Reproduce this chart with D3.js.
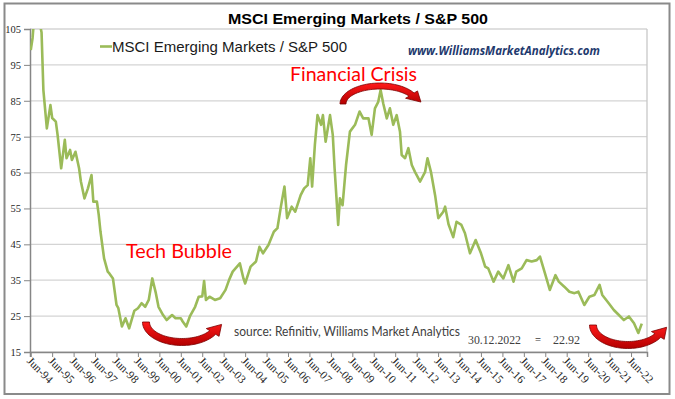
<!DOCTYPE html>
<html>
<head>
<meta charset="utf-8">
<script src="https://cdn.jsdelivr.net/npm/d3@7"></script>
<style>
  html, body { margin: 0; padding: 0; background: #fff; }
  svg { display: block; }
</style>
</head>
<body>
<svg id="chart" width="675" height="399"></svg>
<script>
// series (month-ish resolution, extra points at spikes)
const seriesName = 'MSCI Emerging Markets / S&P 500';
const dates = [
  '1994-07-01','1994-08-01','1994-09-01','1994-10-01','1994-11-15','1995-01-01','1995-02-01','1995-04-01',
  '1995-06-01','1995-07-01','1995-09-01','1995-10-01','1995-12-01','1996-02-01','1996-03-01','1996-05-01',
  '1996-06-01','1996-08-01','1996-10-01','1996-11-01','1997-01-01','1997-03-01','1997-05-01','1997-06-01',
  '1997-08-01','1997-09-01','1997-10-01','1997-12-01','1998-02-01','1998-03-01','1998-05-01','1998-07-01',
  '1998-08-01','1998-10-01','1998-12-01','1999-02-01','1999-05-01','1999-07-01','1999-09-01','1999-11-01',
  '2000-01-01','2000-03-01','2000-05-01','2000-06-15','2000-09-01','2000-11-01','2001-02-01','2001-04-01',
  '2001-07-01','2001-08-01','2001-10-01','2001-12-01','2002-03-01','2002-05-01','2002-07-01','2002-08-01',
  '2002-09-01','2002-11-01','2003-02-01','2003-05-01','2003-08-01','2003-10-01','2003-12-01','2004-04-01',
  '2004-06-01','2004-07-01','2004-10-01','2005-01-01','2005-03-01','2005-05-01','2005-08-01','2005-11-01',
  '2006-01-01','2006-03-01','2006-05-01','2006-06-15','2006-09-01','2006-11-01','2007-02-01','2007-04-01',
  '2007-06-01','2007-07-15','2007-08-15','2007-10-01','2007-11-15','2008-01-15','2008-02-15','2008-04-01',
  '2008-06-15','2008-08-01','2008-09-01','2008-11-01','2008-12-01','2009-01-15','2009-03-15','2009-05-20',
  '2009-08-15','2009-11-01','2010-01-01','2010-04-01','2010-05-25','2010-07-20','2010-09-15','2010-10-25',
  '2010-12-08','2011-02-07','2011-04-01','2011-05-28','2011-07-25','2011-09-20','2011-10-19','2011-12-16',
  '2012-02-10','2012-04-08','2012-06-01','2012-08-28','2012-11-21','2013-01-01','2013-02-28','2013-05-10',
  '2013-07-04','2013-09-27','2013-10-28','2013-12-25','2014-03-15','2014-05-10','2014-08-01','2014-10-01',
  '2014-12-25','2015-04-01','2015-07-01','2015-09-10','2015-11-01','2016-02-01','2016-04-20','2016-07-15',
  '2016-10-10','2017-01-05','2017-02-20','2017-05-25','2017-08-15','2017-11-10','2018-02-05','2018-04-01',
  '2018-06-25','2018-09-15','2018-12-20','2019-02-15','2019-05-20','2019-08-15','2019-11-10','2020-01-15',
  '2020-04-25','2020-07-20','2020-10-15','2021-01-10','2021-02-25','2021-06-15','2021-09-10','2021-12-05',
  '2022-02-28','2022-05-25','2022-08-20','2022-11-01','2022-12-30'
];
const ratio = [
  99.1,102.5,109,113,108,104,88,77.3,
  83.8,80.2,79.2,75.5,66.2,74.1,69.0,71.3,
  68.5,70.8,66.2,62.5,57.8,60.6,64.3,56.9,
  56.9,53.2,48.5,41.1,37.4,36.9,35.5,28.1,
  27.2,22.1,24.4,21.6,26.5,27.2,28.6,27.6,
  29.5,35.5,31.4,27.6,25.3,23.9,25.3,24.4,
  24.4,23.5,22.1,24.9,27.6,30.4,30.5,34.8,
  29.5,30.4,29.5,30.0,32.3,35.1,37.4,39.7,
  35.5,34.1,38.8,40.2,44.3,42.5,44.8,48.5,
  49.5,55.5,61.1,52.3,55.5,54.1,58.7,60.6,
  61.5,69.0,61.1,72.7,81.0,78.3,81.0,73.6,
  81.0,75.5,66.2,50.4,57.8,55.9,67.1,76.4,
  78.3,82.0,80.1,80.1,75.5,82.9,84.7,88.0,
  84.3,80.1,82.9,78.3,81.0,76.4,69.9,69.0,
  71.8,67.1,65.2,62.5,65.2,69.0,65.2,58.7,
  52.3,54.1,55.5,50.6,47.0,51.3,50.4,48.1,
  42.5,46.2,42.5,38.8,38.3,34.6,37.4,35.5,
  39.2,34.6,37.4,38.3,40.6,40.2,40.6,41.6,
  36.9,32.3,36.4,34.6,33.2,31.8,31.4,31.8,
  28.1,30.4,30.9,33.7,30.9,28.6,26.7,25.3,
  23.9,24.9,23.0,20.3,22.92
];
const yTicks = [15, 25, 35, 45, 55, 65, 75, 85, 95, 105];
const tickLabels = [
  'Jun-94','Jun-95','Jun-96','Jun-97','Jun-98','Jun-99','Jun-00','Jun-01','Jun-02','Jun-03',
  'Jun-04','Jun-05','Jun-06','Jun-07','Jun-08','Jun-09','Jun-10','Jun-11','Jun-12','Jun-13',
  'Jun-14','Jun-15','Jun-16','Jun-17','Jun-18','Jun-19','Jun-20','Jun-21','Jun-22'
];
const lastDate = '30.12.2022';
const lastValue = '22.92';

const W = 675, H = 399;
const plot = { left: 30, right: 647, top: 29, bottom: 352 };
const green = '#9bbb59';

const parseDay = d3.timeParse('%Y-%m-%d');
const parseTick = d3.timeParse('%b-%y');
const data = dates.map((d, i) => ({ date: parseDay(d), value: ratio[i] }));
// Excel puts the monthly tick at month end
const tickDates = tickLabels.map(s => d3.timeDay.offset(d3.timeMonth.offset(parseTick(s), 1), -1));

const x = d3.scaleTime()
  .domain([parseDay('1994-06-18'), parseDay('2023-03-29')])
  .range([plot.left, plot.right]);
const y = d3.scaleLinear().domain([15, 105]).range([plot.bottom, plot.top]);

const svg = d3.select('#chart');
svg.append('rect').attr('width', W).attr('height', H).attr('fill', '#fff');

// outer frame
svg.append('rect')
  .attr('x', 4.5).attr('y', 3.5).attr('width', 665).attr('height', 390.5)
  .attr('fill', 'none').attr('stroke', '#8a8a8a').attr('stroke-width', 2);

// gridlines
svg.append('g')
  .selectAll('line')
  .data(yTicks)
  .join('line')
  .attr('x1', plot.left).attr('x2', plot.right)
  .attr('y1', d => y(d)).attr('y2', d => y(d))
  .attr('stroke', '#d4d4d4').attr('stroke-width', 1.3);

svg.append('line')
  .attr('x1', plot.right).attr('x2', plot.right)
  .attr('y1', plot.top).attr('y2', plot.bottom)
  .attr('stroke', '#c8c8c8').attr('stroke-width', 1.3);

// y axis
const yAxis = svg.append('g')
  .attr('transform', `translate(${plot.left},0)`)
  .call(d3.axisLeft(y).tickValues(yTicks).tickSize(6).tickPadding(3).tickFormat(d3.format('d')));
yAxis.select('.domain').attr('stroke', '#868686').attr('stroke-width', 1.5);
yAxis.selectAll('.tick line').attr('stroke', '#868686');
yAxis.selectAll('text')
  .attr('font-family', '"Liberation Serif", "DejaVu Serif", serif')
  .attr('font-size', 10.5).attr('fill', '#262626');

// x axis
const xAxis = svg.append('g')
  .attr('transform', `translate(0,${plot.bottom})`)
  .call(d3.axisBottom(x).tickValues(tickDates).tickSize(5).tickFormat((d, i) => tickLabels[i]));
xAxis.select('.domain').attr('stroke', '#868686').attr('stroke-width', 1.5);
xAxis.selectAll('.tick line').attr('stroke', '#868686');
xAxis.selectAll('text')
  .attr('font-family', '"Liberation Serif", "DejaVu Serif", serif')
  .attr('font-size', 11.5).attr('fill', '#262626')
  .attr('text-anchor', 'start')
  .attr('y', 0).attr('dy', '0.35em')
  .attr('transform', 'translate(-2,7) rotate(45)');

// line, clipped to the plot area
svg.append('clipPath').attr('id', 'clip')
  .append('rect')
  .attr('x', plot.left).attr('y', plot.top)
  .attr('width', plot.right - plot.left).attr('height', plot.bottom - plot.top);

const line = d3.line().x(d => x(d.date)).y(d => y(d.value));
svg.append('path')
  .datum(data)
  .attr('clip-path', 'url(#clip)')
  .attr('d', line)
  .attr('fill', 'none')
  .attr('stroke', green)
  .attr('stroke-width', 2.6)
  .attr('stroke-linejoin', 'round');

// title and legend
svg.append('text')
  .attr('x', 228).attr('y', 24)
  .attr('font-family', '"Liberation Sans", Arial, sans-serif')
  .attr('font-size', 15.5).attr('font-weight', 'bold')
  .attr('textLength', 260).attr('lengthAdjust', 'spacingAndGlyphs')
  .text(seriesName);

svg.append('line')
  .attr('x1', 100).attr('x2', 112).attr('y1', 46.5).attr('y2', 46.5)
  .attr('stroke', green).attr('stroke-width', 2.6);
svg.append('text')
  .attr('x', 112).attr('y', 52)
  .attr('font-family', '"Liberation Sans", Arial, sans-serif')
  .attr('font-size', 15).attr('fill', '#1a1a1a')
  .attr('textLength', 235).attr('lengthAdjust', 'spacingAndGlyphs')
  .text(seriesName);

svg.append('text')
  .attr('x', 408).attr('y', 55)
  .attr('font-family', '"Open Sans", "Liberation Sans", sans-serif')
  .attr('font-size', 12.5).attr('font-weight', 'bold').attr('font-style', 'italic')
  .attr('fill', '#1f3a6e')
  .attr('textLength', 192).attr('lengthAdjust', 'spacingAndGlyphs')
  .text('www.WilliamsMarketAnalytics.com');

// annotations
const note = (tx, ty, str, size, len, fill, family) => svg.append('text')
  .attr('x', tx).attr('y', ty)
  .attr('font-family', family || 'Lato, "Open Sans", sans-serif')
  .attr('font-size', size).attr('fill', fill)
  .attr('textLength', len).attr('lengthAdjust', 'spacingAndGlyphs')
  .text(str);

note(290, 81, 'Financial Crisis', 19.5, 127, '#ff0000');
note(126, 258, 'Tech Bubble', 19.5, 106, '#ff0000');
note(234, 335.5, 'source: Refinitiv, Williams Market Analytics', 13, 226, '#404040');
note(468, 344, lastDate, 11.5, 53, '#404040', '"Liberation Serif", serif');
note(535, 344, '=', 11.5, 6, '#404040', '"Liberation Serif", serif');
note(553, 344, lastValue, 11.5, 27, '#404040', '"Liberation Serif", serif');

// curved red arrows: band along an ellipse from t0 to t1, head at t1
const defs = svg.append('defs');
const grad = defs.append('linearGradient').attr('id', 'redGrad')
  .attr('x1', 0).attr('y1', 0).attr('x2', 0).attr('y2', 1);
grad.append('stop').attr('offset', '0%').attr('stop-color', '#ff1a1a');
grad.append('stop').attr('offset', '100%').attr('stop-color', '#b30000');

function curvedArrow(cx, cy, rx, ry, t0, t1, w, head) {
  const n = 40;
  const ts = d3.range(n + 1).map(i => t0 + (t1 - t0) * i / n);
  const pt = (t, dr) => [cx + (rx + dr) * Math.cos(t), cy + (ry + dr) * Math.sin(t)];
  const outer = ts.map(t => pt(t, w / 2));
  const inner = ts.map(t => pt(t, -w / 2)).reverse();
  const s = Math.sign(t1 - t0);
  let dx = -s * rx * Math.sin(t1), dy = s * ry * Math.cos(t1);
  const len = Math.hypot(dx, dy);
  dx /= len; dy /= len;
  const c = pt(t1, 0);
  const tip = [c[0] + dx * head, c[1] + dy * head];
  const hw = w / 2 + 4;
  const headPts = [pt(t1, hw), tip, pt(t1, -hw)];
  svg.append('path')
    .attr('d', 'M' + outer.join('L') + 'L' + headPts.join('L') + 'L' + inner.join('L') + 'Z')
    .attr('fill', 'url(#redGrad)')
    .attr('stroke', '#7a0000').attr('stroke-width', 0.8)
    .attr('stroke-linejoin', 'miter');
}

curvedArrow(182, 322, 36, 20, Math.PI, 0.55, 7, 12);
curvedArrow(380, 104, 37, 18, Math.PI, 2 * Math.PI - 0.55, 6, 12);
curvedArrow(628, 325, 35, 20, Math.PI, 0.55, 7, 12);
</script>
</body>
</html>
